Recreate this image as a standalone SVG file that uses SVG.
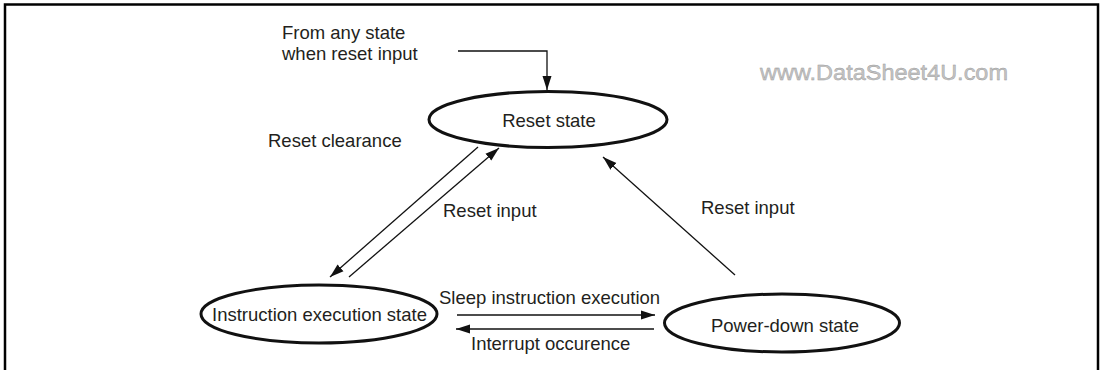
<svg xmlns="http://www.w3.org/2000/svg" width="1103" height="370" viewBox="0 0 1103 370">
<style>
text{font-family:"Liberation Sans",Arial,sans-serif;font-size:18.5px;fill:#231f20}
.node{fill:#fff;stroke:#111;stroke-width:3}
.c{fill:none;stroke:#111;stroke-width:1.3}
.mid{text-anchor:middle}
.wm{font-size:22px;fill:#c4c4c4;stroke:#9a9a9a;stroke-width:0.4}
</style>
<defs>
<marker id="ah" markerUnits="userSpaceOnUse" markerWidth="14" markerHeight="10" refX="14" refY="5" orient="auto">
<path d="M0,0.5 L14,5 L0,9.5 z" fill="#111"/>
</marker>
</defs>
<rect width="1103" height="370" fill="#fff"/>
<path d="M5,372 V4.5 H1098 V372" fill="none" stroke="#000" stroke-width="2.5"/>
<text x="282" y="39">From any state</text>
<text x="282" y="60">when reset input</text>
<text class="wm" x="760" y="80" textLength="248" lengthAdjust="spacingAndGlyphs">www.DataSheet4U.com</text>
<g id="connectors">
<path class="c" d="M458,51 H547 V90" marker-end="url(#ah)"/>
<line class="c" x1="478" y1="147" x2="330" y2="277" marker-end="url(#ah)"/>
<line class="c" x1="349" y1="277" x2="499" y2="148" marker-end="url(#ah)"/>
<line class="c" x1="735" y1="275" x2="603" y2="157" marker-end="url(#ah)"/>
<line class="c" x1="457" y1="315" x2="655" y2="315" marker-end="url(#ah)"/>
<line class="c" x1="654" y1="329" x2="456" y2="329" marker-end="url(#ah)"/>
<text x="268" y="147">Reset clearance</text>
<text x="443" y="217">Reset input</text>
<text x="701" y="214">Reset input</text>
<text x="439" y="304">Sleep instruction execution</text>
<text x="471" y="350">Interrupt occurence</text>
</g>
<g id="reset-state">
<ellipse class="node" cx="548" cy="119.5" rx="119" ry="28"/>
<text class="mid" x="549" y="127">Reset state</text>
</g>
<g id="instruction-execution-state">
<ellipse class="node" cx="319" cy="314" rx="118" ry="29"/>
<text class="mid" x="319.5" y="321">Instruction execution state</text>
</g>
<g id="power-down-state">
<ellipse class="node" cx="782" cy="323" rx="117.5" ry="29"/>
<text class="mid" x="785" y="332">Power-down state</text>
</g>
</svg>
